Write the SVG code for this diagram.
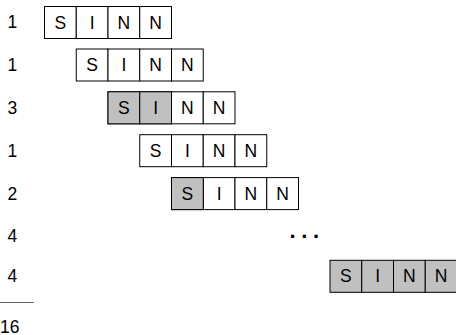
<svg xmlns="http://www.w3.org/2000/svg" width="456" height="335" viewBox="0 0 456 335">
<style>
text{font-family:"Liberation Sans",Arial,sans-serif;font-size:17.5px;fill:#000}
.c{fill:#fff;stroke:#000;stroke-width:1}
.g{fill:#c0c0c0;stroke:#000;stroke-width:1}
.t{text-anchor:middle}
</style>
<rect width="456" height="335" fill="#fff"/>
<defs>
<g id="w">
<rect class="c" x="0" y="0" width="31.75" height="32"/>
<rect class="c" x="31.75" y="0" width="31.75" height="32"/>
<rect class="c" x="63.5" y="0" width="31.75" height="32"/>
<rect class="c" x="95.25" y="0" width="31.75" height="32"/>
</g>
</defs>
<g id="labels">
<text x="7.5" y="27.5">1</text>
<text x="7.5" y="70.5">1</text>
<text x="7.5" y="113.5">3</text>
<text x="7.5" y="156.5">1</text>
<text x="7.5" y="199.5">2</text>
<text x="7.5" y="242">4</text>
<text x="7.5" y="281.5">4</text>
<line x1="0" y1="302.5" x2="34" y2="302.5" stroke="#666" stroke-width="1"/>
<text x="0" y="332.5">16</text>
</g>
<g id="row1" transform="translate(44.5,6.5)">
<use href="#w"/>
<text class="t" x="15.9" y="22">S</text><text class="t" x="47.6" y="22">I</text><text class="t" x="79.4" y="22">N</text><text class="t" x="111.1" y="22">N</text>
</g>
<g id="row2" transform="translate(76.25,49)">
<use href="#w"/>
<text class="t" x="15.9" y="22">S</text><text class="t" x="47.6" y="22">I</text><text class="t" x="79.4" y="22">N</text><text class="t" x="111.1" y="22">N</text>
</g>
<g id="row3" transform="translate(108,91.8)">
<use href="#w"/>
<rect class="g" x="0" y="0" width="31.75" height="32"/>
<rect class="g" x="31.75" y="0" width="31.75" height="32"/>
<text class="t" x="15.9" y="22">S</text><text class="t" x="47.6" y="22">I</text><text class="t" x="79.4" y="22">N</text><text class="t" x="111.1" y="22">N</text>
</g>
<g id="row4" transform="translate(139.75,134.7)">
<use href="#w"/>
<text class="t" x="15.9" y="22">S</text><text class="t" x="47.6" y="22">I</text><text class="t" x="79.4" y="22">N</text><text class="t" x="111.1" y="22">N</text>
</g>
<g id="row5" transform="translate(171.5,177.6)">
<use href="#w"/>
<rect class="g" x="0" y="0" width="31.75" height="32"/>
<text class="t" x="15.9" y="22">S</text><text class="t" x="47.6" y="22">I</text><text class="t" x="79.4" y="22">N</text><text class="t" x="111.1" y="22">N</text>
</g>
<g id="dots">
<text x="289.6" y="237.5" style="font-size:22px;font-weight:bold;letter-spacing:5.6px">...</text>
</g>
<g id="row7" transform="translate(330,260.3)">
<rect class="g" x="0" y="0" width="31.75" height="32"/>
<rect class="g" x="31.75" y="0" width="31.75" height="32"/>
<rect class="g" x="63.5" y="0" width="31.75" height="32"/>
<rect class="g" x="95.25" y="0" width="31.75" height="32"/>
<text class="t" x="15.9" y="22">S</text><text class="t" x="47.6" y="22">I</text><text class="t" x="79.4" y="22">N</text><text class="t" x="111.1" y="22">N</text>
</g>
</svg>
